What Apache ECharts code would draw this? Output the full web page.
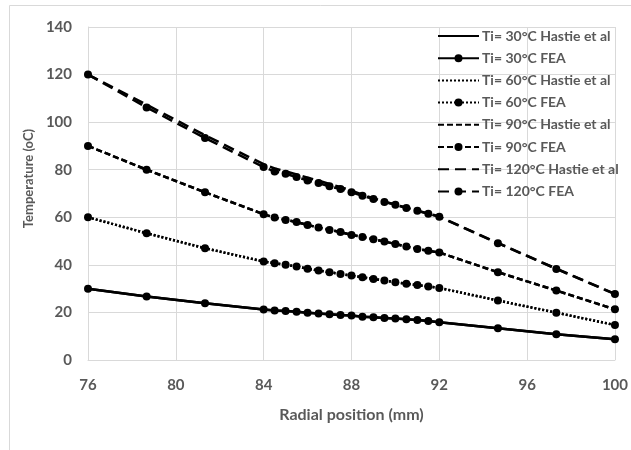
<!DOCTYPE html>
<html>
<head>
<meta charset="utf-8">
<script src="https://cdn.jsdelivr.net/npm/echarts@6/dist/echarts.min.js"></script>
<style>
html,body{margin:0;padding:0;background:#fff;}
#chart{width:631px;height:450px;}
</style>
</head>
<body>
<div id="chart"></div>
<script>
// Radial positions (mm)
var radialPos = [76, 78.67, 81.33, 84, 84.5, 85, 85.5, 86, 86.5, 87, 87.5, 88, 88.5, 89, 89.5, 90, 90.5, 91, 91.5, 92, 94.67, 97.33, 100];

// Temperatures (oC)
var hastie30 = [30, 26.7, 23.9, 21.2, 20.8, 20.6, 20.3, 19.9, 19.6, 19.2, 18.9, 18.7, 18.2, 18.0, 17.7, 17.4, 17.1, 16.8, 16.4, 15.9, 13.3, 10.8, 8.7];
var fea30    = [30, 26.7, 23.9, 21.2, 20.8, 20.6, 20.3, 19.9, 19.6, 19.2, 18.9, 18.7, 18.2, 18.0, 17.7, 17.4, 17.1, 16.8, 16.4, 15.9, 13.3, 10.8, 8.7];
var hastie60 = [60, 53.3, 47.0, 41.4, 40.7, 40.0, 39.3, 38.4, 37.6, 36.9, 36.2, 35.5, 34.8, 34.1, 33.4, 32.7, 32.1, 31.5, 30.9, 30.3, 25.0, 19.9, 14.7];
var fea60    = [60, 53.3, 47.0, 41.4, 40.7, 40.0, 39.3, 38.4, 37.6, 36.9, 36.2, 35.5, 34.8, 34.1, 33.4, 32.7, 32.1, 31.5, 30.9, 30.3, 25.0, 19.9, 14.7];
var hastie90 = [90, 80.0, 70.5, 61.3, 59.9, 58.9, 58.0, 56.8, 55.7, 54.7, 53.8, 52.6, 51.7, 50.8, 49.8, 48.8, 47.7, 46.7, 45.9, 45.2, 36.9, 29.2, 21.3];
var fea90    = [90, 80.0, 70.5, 61.3, 59.9, 58.9, 58.0, 56.8, 55.7, 54.7, 53.8, 52.6, 51.7, 50.8, 49.8, 48.8, 47.7, 46.7, 45.9, 45.2, 36.9, 29.2, 21.3];
var hastie120 = [120, 107.3, 94.5, 82.3, 80.5, 79.3, 78.0, 76.6, 75.4, 74.0, 72.7, 71.2, 69.5, 68.0, 66.6, 65.4, 64.0, 62.8, 61.6, 60.3, 49.2, 38.4, 27.8];
var fea120    = [120, 106.2, 93.3, 81.1, 79.3, 78.3, 76.9, 75.5, 74.4, 73.0, 71.9, 70.5, 69.1, 67.7, 66.4, 65.3, 63.9, 62.7, 61.5, 60.2, 49.1, 38.3, 27.7];

var seriesNames = [
  'Ti= 30°C Hastie et al', 'Ti= 30°C FEA',
  'Ti= 60°C Hastie et al', 'Ti= 60°C FEA',
  'Ti= 90°C Hastie et al', 'Ti= 90°C FEA',
  'Ti= 120°C Hastie et al', 'Ti= 120°C FEA'
];
var seriesValues = [hastie30, fea30, hastie60, fea60, hastie90, fea90, hastie120, fea120];

var dashTypes = ['solid', 'solid', [2, 2], [2, 2], [6, 3], [6, 3], [11, 6], [11, 6]];

function pairs(vals) {
  return radialPos.map(function (x, i) { return [x, vals[i]]; });
}

var FONT = 'Lato';
var GREY = '#595959';

var series = seriesNames.map(function (name, i) {
  var isFea = (i % 2 === 1);
  return {
    name: name,
    type: 'line',
    data: pairs(seriesValues[i]),
    symbol: isFea ? 'circle' : 'none',
    showSymbol: isFea,
    symbolSize: 8,
    itemStyle: { color: '#000' },
    lineStyle: { color: '#000', width: 2.5, type: dashTypes[i] },
    z: isFea ? 3 : 2
  };
});

var legendData = seriesNames.map(function (name, i) {
  if (i % 2 === 0) {
    return { name: name, itemStyle: { opacity: 0, color: 'rgba(0,0,0,0)', borderWidth: 0 } };
  }
  return { name: name };
});

var chart = echarts.init(document.getElementById('chart'), null, { renderer: 'canvas' });
chart.setOption({
  animation: false,
  backgroundColor: '#fff',
  grid: { left: 88, right: 10, top: 27, bottom: 90, containLabel: false },
  graphic: [{
    type: 'rect',
    shape: { x: 9.5, y: 5.5, width: 660, height: 480 },
    style: { fill: 'none', stroke: '#d9d9d9', lineWidth: 1 },
    silent: true, z: -10
  }],
  legend: {
    orient: 'vertical',
    left: 437,
    top: 29,
    itemWidth: 41,
    itemHeight: 10,
    itemGap: 8.2,
    padding: 0,
    textStyle: { fontFamily: FONT, fontWeight: 'bold', fontSize: 14, lineHeight: 14, color: GREY, padding: [0, 0, 0, -2] },
    data: legendData
  },
  xAxis: {
    type: 'value',
    min: 76, max: 100, interval: 4,
    name: 'Radial position (mm)',
    nameLocation: 'middle',
    nameGap: 47,
    nameTextStyle: { fontFamily: FONT, fontWeight: 'bold', fontSize: 16, color: GREY },
    axisLine: { show: true, lineStyle: { color: '#d9d9d9', width: 1 } },
    axisTick: { show: false },
    axisLabel: { fontFamily: FONT, fontWeight: 'bold', fontSize: 15, color: GREY, margin: 18 },
    splitLine: { show: true, lineStyle: { color: '#d9d9d9', width: 1 } }
  },
  yAxis: {
    type: 'value',
    min: 0, max: 140, interval: 20,
    name: 'Temperature (oC)',
    nameLocation: 'middle',
    nameGap: 52,
    nameTextStyle: { fontFamily: FONT, fontWeight: 'bold', fontSize: 13, color: GREY, padding: [0, 0, 0, 30] },
    axisLine: { show: true, lineStyle: { color: '#d9d9d9', width: 1 } },
    axisTick: { show: false },
    axisLabel: { fontFamily: FONT, fontWeight: 'bold', fontSize: 15, color: GREY, margin: 16 },
    splitLine: { show: true, lineStyle: { color: '#d9d9d9', width: 1 } }
  },
  series: series
});
</script>
</body>
</html>
